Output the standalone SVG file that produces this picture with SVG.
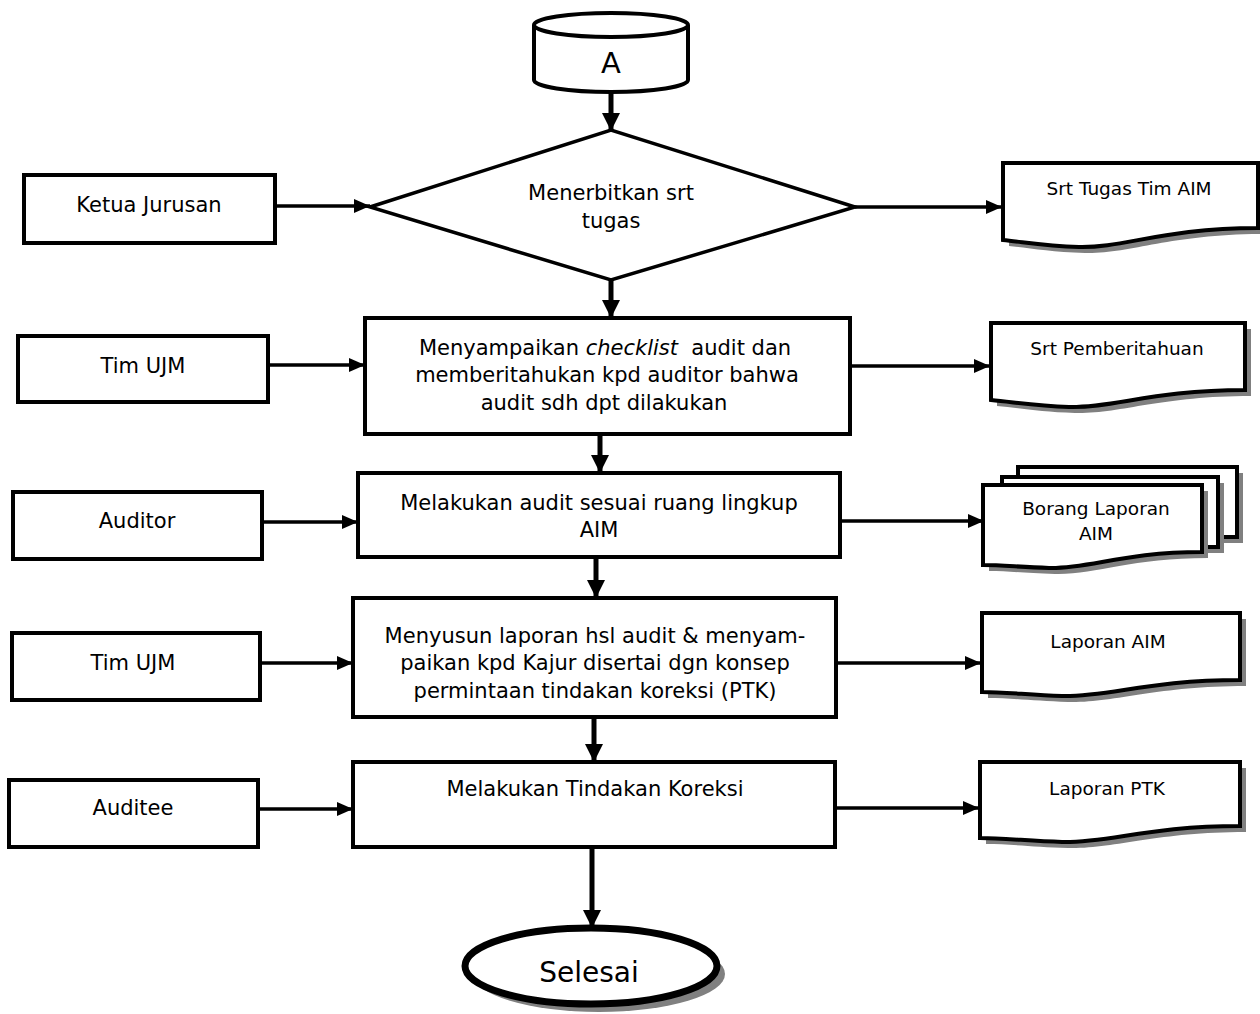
<svg xmlns="http://www.w3.org/2000/svg" width="1260" height="1014" viewBox="0 0 1260 1014">
<style>
text{font-family:"DejaVu Sans","Liberation Sans",sans-serif;fill:#000;white-space:pre}
.t{font-size:21px;text-anchor:middle}
.d{font-size:18.5px;text-anchor:middle}
.box{fill:#fff;stroke:#000;stroke-width:4}
.doc{fill:#fff;stroke:#000;stroke-width:4;stroke-linejoin:miter}
.sh{fill:#808080;stroke:none}
.v{stroke:#000;stroke-width:5;fill:none}
.h{stroke:#000;stroke-width:3.5;fill:none}
</style>
<defs>
<marker id="av" markerUnits="userSpaceOnUse" viewBox="0 0 18 18" refX="18" refY="9" markerWidth="18" markerHeight="18" orient="auto"><path d="M0,0 L18,9 L0,18 Z" fill="#000"/></marker>
<marker id="ah" markerUnits="userSpaceOnUse" viewBox="0 0 16 14" refX="16" refY="7" markerWidth="16" markerHeight="14" orient="auto"><path d="M0,0 L16,7 L0,14 Z" fill="#000"/></marker>
</defs>

<g id="connectors">
<line class="v" x1="611" y1="92" x2="611" y2="131" marker-end="url(#av)"/>
<line class="v" x1="611" y1="280" x2="611" y2="318" marker-end="url(#av)"/>
<line class="v" x1="600" y1="434" x2="600" y2="473" marker-end="url(#av)"/>
<line class="v" x1="596" y1="557" x2="596" y2="598" marker-end="url(#av)"/>
<line class="v" x1="594" y1="717" x2="594" y2="762" marker-end="url(#av)"/>
<line class="v" x1="592" y1="847" x2="592" y2="928" marker-end="url(#av)"/>
<line class="h" x1="275" y1="206" x2="370" y2="206" marker-end="url(#ah)"/>
<line class="h" x1="855" y1="207" x2="1002" y2="207" marker-end="url(#ah)"/>
<line class="h" x1="268" y1="365" x2="365" y2="365" marker-end="url(#ah)"/>
<line class="h" x1="850" y1="366" x2="990" y2="366" marker-end="url(#ah)"/>
<line class="h" x1="262" y1="522" x2="358" y2="522" marker-end="url(#ah)"/>
<line class="h" x1="840" y1="521" x2="984" y2="521" marker-end="url(#ah)"/>
<line class="h" x1="260" y1="663" x2="353" y2="663" marker-end="url(#ah)"/>
<line class="h" x1="836" y1="663" x2="981" y2="663" marker-end="url(#ah)"/>
<line class="h" x1="258" y1="809" x2="353" y2="809" marker-end="url(#ah)"/>
<line class="h" x1="835" y1="808" x2="979" y2="808" marker-end="url(#ah)"/>
</g>

<g id="start-A">
<path d="M534,25 V80 A77,12 0 0 0 688,80 V25" fill="#fff" stroke="#000" stroke-width="4"/>
<ellipse cx="611" cy="25" rx="77" ry="12" fill="#fff" stroke="#000" stroke-width="4"/>
<text x="611" y="73" style="font-size:29px;text-anchor:middle">A</text>
</g>

<g id="decision">
<polygon points="370,207 611,130 855,207 611,280" fill="#fff" stroke="#000" stroke-width="3.5"/>
<text class="t" x="611" y="200">Menerbitkan srt</text>
<text class="t" x="611" y="228">tugas</text>
</g>

<g id="ketua-jurusan">
<rect class="box" x="24" y="175" width="251" height="68"/>
<text class="t" x="149" y="212">Ketua Jurusan</text>
</g>

<g id="doc-srt-tugas">
<path class="sh" d="M1009,169 H1264 V234 C1170,234 1130,254 1085,253 C1050,252 1030,248 1009,246 Z"/>
<path class="doc" d="M1003,163 H1258 V228 C1164,228 1124,248 1079,247 C1044,246 1024,242 1003,240 Z"/>
<text class="d" x="1129" y="195">Srt Tugas Tim AIM</text>
</g>

<g id="tim-ujm-1">
<rect class="box" x="18" y="336" width="250" height="66"/>
<text class="t" x="143" y="373">Tim UJM</text>
</g>

<g id="proses-menyampaikan">
<rect class="box" x="365" y="318" width="485" height="116"/>
<text class="t" x="605" y="355">Menyampaikan <tspan font-style="italic">checklist</tspan>  audit dan</text>
<text class="t" x="607" y="382">memberitahukan kpd auditor bahwa</text>
<text class="t" x="604" y="410">audit sdh dpt dilakukan</text>
</g>

<g id="doc-srt-pemberitahuan">
<path class="sh" d="M997,329 H1251 V396 C1160,396 1120,414 1075,413 C1040,412 1020,408 997,406 Z"/>
<path class="doc" d="M991,323 H1245 V390 C1154,390 1114,408 1069,407 C1034,406 1014,402 991,400 Z"/>
<text class="d" x="1117" y="355">Srt Pemberitahuan</text>
</g>

<g id="auditor">
<rect class="box" x="13" y="492" width="249" height="67"/>
<text class="t" x="137" y="528">Auditor</text>
</g>

<g id="proses-audit">
<rect class="box" x="358" y="473" width="482" height="84"/>
<text class="t" x="599" y="510">Melakukan audit sesuai ruang lingkup</text>
<text class="t" x="599" y="537">AIM</text>
</g>

<g id="doc-borang">
<path class="sh" d="M1024,473 H1243 V543 L1024,543 Z"/>
<path class="doc" d="M1018,467 H1237 V537 L1018,537 Z"/>
<path class="sh" d="M1008,483 H1224 V553 L1008,553 Z"/>
<path class="doc" d="M1002,477 H1218 V547 L1002,547 Z"/>
<path class="sh" d="M989,491 H1208 V558 C1130,558 1095,575 1055,574 C1025,573 1008,571 989,571 Z"/>
<path class="doc" d="M983,485 H1202 V552 C1124,552 1089,569 1049,568 C1019,567 1002,565 983,565 Z"/>
<text class="d" x="1096" y="515">Borang Laporan</text>
<text class="d" x="1096" y="540">AIM</text>
</g>

<g id="tim-ujm-2">
<rect class="box" x="12" y="633" width="248" height="67"/>
<text class="t" x="133" y="670">Tim UJM</text>
</g>

<g id="proses-laporan">
<rect class="box" x="353" y="598" width="483" height="119"/>
<text class="t" x="595" y="643">Menyusun laporan hsl audit &amp; menyam-</text>
<text class="t" x="595" y="670">paikan kpd Kajur disertai dgn konsep</text>
<text class="t" x="595" y="698">permintaan tindakan koreksi (PTK)</text>
</g>

<g id="doc-laporan-aim">
<path class="sh" d="M988,619 H1246 V686 C1155,686 1115,703 1068,702 C1035,701 1012,698 988,698 Z"/>
<path class="doc" d="M982,613 H1240 V680 C1149,680 1109,697 1062,696 C1029,695 1006,692 982,692 Z"/>
<text class="d" x="1108" y="648">Laporan AIM</text>
</g>

<g id="auditee">
<rect class="box" x="9" y="780" width="249" height="67"/>
<text class="t" x="133" y="815">Auditee</text>
</g>

<g id="proses-koreksi">
<rect class="box" x="353" y="762" width="482" height="85"/>
<text class="t" x="595" y="796">Melakukan Tindakan Koreksi</text>
</g>

<g id="doc-laporan-ptk">
<path class="sh" d="M986,768 H1246 V832 C1155,832 1115,849 1068,848 C1035,847 1010,844 986,844 Z"/>
<path class="doc" d="M980,762 H1240 V826 C1149,826 1109,843 1062,842 C1029,841 1004,838 980,838 Z"/>
<text class="d" x="1107" y="795">Laporan PTK</text>
</g>

<g id="end-selesai">
<ellipse cx="599" cy="974" rx="126" ry="38" fill="#808080"/>
<ellipse cx="591" cy="966" rx="126" ry="38" fill="#fff" stroke="#000" stroke-width="7"/>
<text x="589" y="982" style="font-size:28px;text-anchor:middle">Selesai</text>
</g>
</svg>
